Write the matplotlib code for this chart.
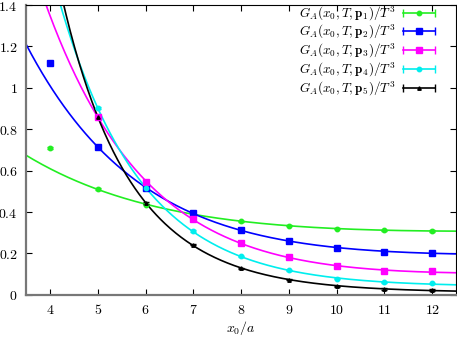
import numpy as np
import matplotlib
matplotlib.use("Agg")
import matplotlib.pyplot as plt
from matplotlib.lines import Line2D
from matplotlib.legend_handler import HandlerLine2D, HandlerTuple
from matplotlib.ticker import FuncFormatter

plt.rcParams['mathtext.fontset'] = 'cm'
plt.rcParams['font.family'] = 'serif'
plt.rcParams['font.serif'] = ['DejaVu Serif']

# ---- data (x0/a = 4..12), nan = off the chart
x0 = np.array([4, 5, 6, 7, 8, 9, 10, 11, 12])
g_p1 = np.array([0.71, 0.51, 0.436, 0.392, 0.355, 0.334, 0.320, 0.312, 0.309])
g_p2 = np.array([1.12, 0.716, 0.515, 0.397, 0.312, 0.260, 0.228, 0.208, 0.203])
g_p3 = np.array([np.nan, 0.86, 0.547, 0.367, 0.250, 0.181, 0.139, 0.116, 0.113])
g_p4 = np.array([np.nan, 0.904, 0.515, 0.309, 0.186, 0.118, 0.079, 0.060, 0.055])
g_p5 = np.array([np.nan, 0.861, 0.444, 0.242, 0.129, 0.073, 0.042, 0.028, 0.024])
err = np.array([0.004, 0.004, 0.003, 0.003, 0.003, 0.003, 0.003, 0.003, 0.003])

series = [g_p1, g_p2, g_p3, g_p4, g_p5]
colors = ['#22ee22', '#0000ff', '#ff00ff', '#00eeee', '#000000']
markers = ['o', 's', 's', 'o', '^']
msizes = [3.2, 3.8, 3.8, 3.2, 2.5]
labels = [r'$G_A(x_0,T,\mathbf{p}_%d)/T^3$' % (i + 1) for i in range(5)]

fit_min = 5


def basis(x, m):
    # constant + ground state + excited state at twice the mass
    return np.column_stack([np.ones_like(x), np.exp(-m * x), np.exp(-2 * m * x)])


def fit(x, y):
    best = None
    for m in np.linspace(0.1, 2.0, 800):
        M = basis(x, m)
        coef = np.linalg.lstsq(M, y, rcond=None)[0]
        if coef[2] < 0:
            coef = np.append(np.linalg.lstsq(M[:, :2], y, rcond=None)[0], 0.0)
        r = np.sum((M @ coef - y) ** 2)
        if best is None or r < best[0]:
            best = (r, m, coef)
    return best[1:]


fig = plt.figure(figsize=(4.57, 3.37), dpi=100)
ax = fig.add_axes([0.057, 0.125, 0.941, 0.86])

xx = np.linspace(3.5, 12.5, 400)
handles = []
hmap = {}
for y, c, mk, ms, lab in zip(series, colors, markers, msizes, labels):
    sel = (x0 >= fit_min) & ~np.isnan(y)
    m, coef = fit(x0[sel].astype(float), y[sel])
    ax.plot(xx, basis(xx, m) @ coef, color=c, lw=1.2)
    ax.errorbar(x0, y, yerr=err, fmt=mk, color=c, ms=ms, capsize=2,
                elinewidth=1, zorder=3)
    caps = Line2D([], [], color=c, lw=1.2, marker='|', ms=6)
    dot = Line2D([], [], color=c, ls='none', marker=mk, ms=ms)
    hmap[caps] = HandlerLine2D(numpoints=2)
    hmap[dot] = HandlerLine2D(numpoints=1)
    handles.append((caps, dot))
hmap[tuple] = HandlerTuple(ndivide=1, pad=0)

leg = ax.legend(handles, labels, handler_map=hmap, loc='upper right',
                bbox_to_anchor=(0.975, 1.025), frameon=False, markerfirst=False,
                fontsize=9.5, handlelength=3.0, handletextpad=0.3,
                labelspacing=0.05, borderaxespad=0.1)

ax.set_xlim(3.5, 12.5)
ax.set_ylim(0, 1.4)
ax.set_xticks(np.arange(4, 13))
ax.set_yticks(np.arange(0, 1.41, 0.2))
fmt = FuncFormatter(lambda v, p: r'$%g$' % round(v, 2))
ax.xaxis.set_major_formatter(fmt)
ax.yaxis.set_major_formatter(fmt)
ax.tick_params(direction='in', top=True, right=True, length=4, width=0.8,
               labelsize=10, pad=6)
for s in ['left', 'bottom']:
    ax.spines[s].set_color('#777777')
    ax.spines[s].set_linewidth(1.6)
for s in ['top', 'right']:
    ax.spines[s].set_linewidth(0.8)
ax.set_xlabel(r'$x_0/a$', fontsize=10, labelpad=1)

plt.savefig("out.png", dpi=100)
